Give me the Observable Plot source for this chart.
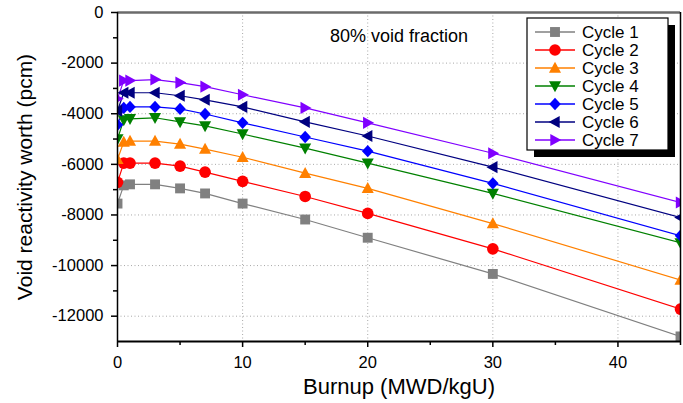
<!DOCTYPE html>
<html><head><meta charset="utf-8">
<script src="https://cdn.jsdelivr.net/npm/d3@7"></script>
<script src="https://cdn.jsdelivr.net/npm/@observablehq/plot@0.6"></script>
<style>
html,body{margin:0;padding:0;background:#fff;}
#chart{width:683px;height:403px;}
</style></head><body><div id="chart"></div>
<script>
// ---- data ----
const burnup = [0, 0.5, 1, 3, 5, 7, 10, 15, 20, 30, 45];
const cycleNames = ["Cycle 1", "Cycle 2", "Cycle 3", "Cycle 4", "Cycle 5", "Cycle 6", "Cycle 7"];
const cycle1 = [-7550, -6830, -6790, -6790, -6950, -7150, -7550, -8180, -8900, -10330, -12800];
const cycle2 = [-6710, -5950, -5950, -5950, -6070, -6310, -6670, -7270, -7940, -9340, -11720];
const cycle3 = [-5800, -5120, -5080, -5080, -5200, -5400, -5720, -6350, -6950, -8340, -10570];
const cycle4 = [-5000, -4240, -4200, -4160, -4320, -4480, -4800, -5360, -5950, -7150, -9100];
const cycle5 = [-4440, -3770, -3730, -3730, -3810, -4010, -4360, -4920, -5480, -6750, -8820];
const cycle6 = [-3880, -3170, -3170, -3170, -3290, -3450, -3730, -4320, -4880, -6110, -8100];
const cycle7 = [-3410, -2690, -2690, -2650, -2770, -2930, -3250, -3770, -4360, -5560, -7510];
const xMajorTicks = [0, 10, 20, 30, 40];
const xMinorTicks = [5, 15, 25, 35, 45];
const yMajorTicks = [0, -2000, -4000, -6000, -8000, -10000, -12000];
const yMinorTicks = [-1000, -3000, -5000, -7000, -9000, -11000];
const xDomain = [0, 45];
const yDomain = [-13000, 0];
const annotation = ["80% void fraction"];
const xTitle = ["Burnup (MWD/kgU)"];
const yTitle = ["Void reactivity worth (pcm)"];

// ---- styles ----
const colors = ["#808080", "#ff0000", "#ff8000", "#008000", "#0000ff", "#000080", "#8000ff"];
const poly = (pts) => ({
  draw(ctx, size) {
    const r = Math.sqrt(size / Math.PI);
    ctx.moveTo(pts[0][0] * r, pts[0][1] * r);
    for (let i = 1; i < pts.length; i++) ctx.lineTo(pts[i][0] * r, pts[i][1] * r);
    ctx.closePath();
  }
});
const symSquare = poly([[-0.9, -0.9], [0.9, -0.9], [0.9, 0.9], [-0.9, 0.9]]);
const symCircle = { draw(ctx, size) { const r = Math.sqrt(size / Math.PI) * 1.06; ctx.moveTo(r, 0); ctx.arc(0, 0, r, 0, 2 * Math.PI); } };
const symUp = poly([[0, -1.15], [1.1, 0.85], [-1.1, 0.85]]);
const symDown = poly([[0, 1.15], [1.1, -0.85], [-1.1, -0.85]]);
const symDiamond = poly([[0, -1.12], [1.05, 0], [0, 1.12], [-1.05, 0]]);
const symLeft = poly([[-1.15, 0], [0.85, -1.1], [0.85, 1.1]]);
const symRight = poly([[1.15, 0], [-0.85, -1.1], [-0.85, 1.1]]);
const symbols = [symSquare, symCircle, symUp, symDown, symDiamond, symLeft, symRight];

const series = [cycle1, cycle2, cycle3, cycle4, cycle5, cycle6, cycle7];
const rows = series.flatMap((vals, k) => vals.map((v, i) => ({ cycle: cycleNames[k], burnup: burnup[i], worth: v })));
const ofCycle = (k) => rows.filter(d => d.cycle === cycleNames[k]);

const font = "'Liberation Sans', Arial, sans-serif";
const gridStyle = { stroke: "#a8a8a8", strokeOpacity: 1, strokeDasharray: "1,2.5", strokeWidth: 1 };
const markerR = 5.5;

const chart = Plot.plot({
  width: 683, height: 403,
  marginLeft: 117, marginRight: 3, marginTop: 12, marginBottom: 62,
  style: { fontFamily: font, fontSize: "16.5px", background: "white", color: "black", overflow: "visible" },
  x: { domain: xDomain },
  y: { domain: yDomain },
  marks: [
    Plot.gridY(yMajorTicks.filter(d => d > yDomain[0] && d < yDomain[1]), gridStyle),
    Plot.gridX(xMajorTicks.filter(d => d > xDomain[0] && d < xDomain[1]), gridStyle),
    ...series.map((_, k) => Plot.line(ofCycle(k), { x: "burnup", y: "worth", stroke: colors[k], strokeWidth: 1.2, clip: true })),
    ...series.map((_, k) => Plot.dot(ofCycle(k), { x: "burnup", y: "worth", symbol: symbols[k], r: markerR, fill: colors[k], stroke: "none", clip: true })),
    Plot.ruleY([yDomain[1]], { stroke: "#6b6b6b", strokeWidth: 2.5 }),
    Plot.ruleX([xDomain[1]], { stroke: "black", strokeWidth: 1.5 }),
    Plot.ruleX([xDomain[0]], { stroke: "black", strokeWidth: 1.5 }),
    Plot.ruleY([yDomain[0]], { stroke: "black", strokeWidth: 2 }),
    Plot.axisX({ ticks: xMajorTicks, tickSize: 6, tickPadding: 9, label: null, tickFormat: d => String(d), strokeWidth: 1.5 }),
    Plot.axisX({ ticks: xMinorTicks, tickSize: 4, label: null, tickFormat: () => "", strokeWidth: 1.5 }),
    Plot.axisY({ ticks: yMajorTicks, tickSize: 6, tickPadding: 8, label: null, tickFormat: d => String(d), strokeWidth: 1.5 }),
    Plot.axisY({ ticks: yMinorTicks, tickSize: 4, label: null, tickFormat: () => "", strokeWidth: 1.5 }),
    Plot.text(annotation, { frameAnchor: "top", dx: 0, dy: 24, lineAnchor: "middle", fontSize: 18 }),
    Plot.text(xTitle, { frameAnchor: "bottom", dy: 45, lineAnchor: "middle", fontSize: 22 }),
    Plot.text(yTitle, { frameAnchor: "left", dx: -92, rotate: -90, textAnchor: "middle", lineAnchor: "middle", fontSize: 21 })
  ]
});
document.getElementById("chart").appendChild(chart);

// ---- legend ----
const svg = d3.select(chart);
const lg = svg.append("g").attr("font-family", font).attr("font-size", 17).attr("text-anchor", "start");
const lx = 527, ly = 18, lw = 141, lh = 132, sh = 7;
lg.append("rect").attr("x", lx + sh).attr("y", ly + sh).attr("width", lw).attr("height", lh).attr("fill", "black");
lg.append("rect").attr("x", lx).attr("y", ly).attr("width", lw).attr("height", lh).attr("fill", "white").attr("stroke", "black").attr("stroke-width", 1.2);
cycleNames.forEach((name, k) => {
  const cy = ly + 14 + 18 * k;
  lg.append("line").attr("x1", lx + 8).attr("x2", lx + 48).attr("y1", cy).attr("y2", cy).attr("stroke", colors[k]).attr("stroke-width", 1.3);
  lg.append("path").attr("transform", `translate(${lx + 28},${cy})`).attr("d", d3.symbol(symbols[k], markerR * markerR * Math.PI)()).attr("fill", colors[k]);
  lg.append("text").attr("x", lx + 55).attr("y", cy).attr("dy", "0.35em").text(name);
});
</script>
</body></html>
